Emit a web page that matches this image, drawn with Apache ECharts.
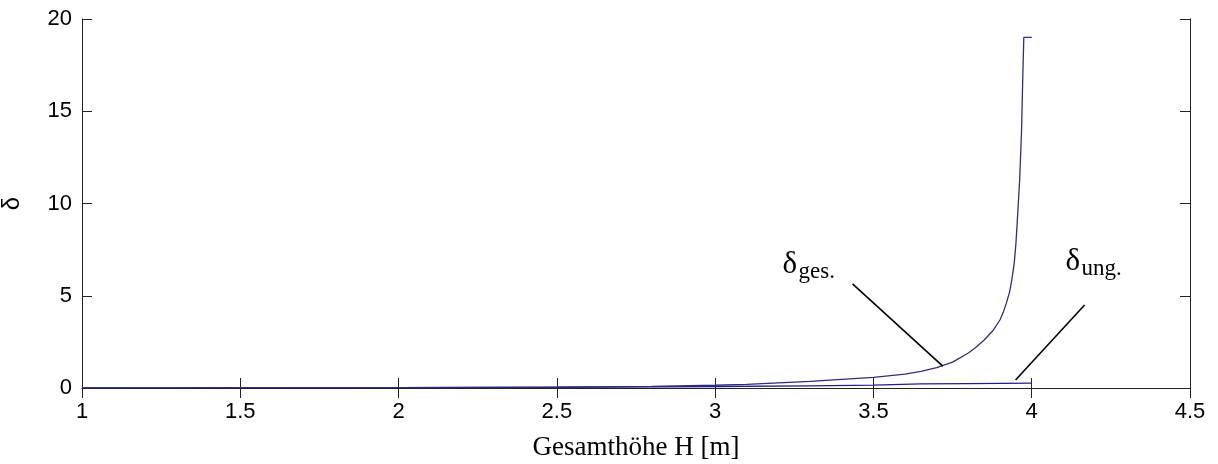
<!DOCTYPE html>
<html>
<head>
<meta charset="utf-8">
<script src="https://cdn.jsdelivr.net/npm/echarts@6/dist/echarts.min.js"></script>
<style>html,body{margin:0;padding:0;background:#fff;}#c{width:1218px;height:464px;}</style>
</head>
<body>
<div id="c"></div>
<script>
// Data
const gesX = [1, 1.5, 2.0, 2.5, 2.8, 3.0, 3.1, 3.2, 3.3, 3.4, 3.5, 3.6, 3.65, 3.7, 3.75, 3.8, 3.82, 3.85, 3.877, 3.9, 3.91, 3.92, 3.93, 3.937, 3.945, 3.95, 3.956, 3.962, 3.968, 3.972, 3.975, 4.0];
const gesY = [0.01, 0.015, 0.02, 0.05, 0.09, 0.15, 0.2, 0.28, 0.36, 0.47, 0.58, 0.75, 0.9, 1.1, 1.4, 1.9, 2.15, 2.6, 3.1, 3.7, 4.1, 4.6, 5.2, 5.85, 6.8, 7.8, 9.5, 11.3, 14, 17, 19, 19];
const ungX = [1, 2.0, 2.5, 3.0, 3.3, 3.5, 3.65, 3.8, 4.0];
const ungY = [0.01, 0.02, 0.04, 0.08, 0.12, 0.16, 0.22, 0.24, 0.26];
const xTicks = {min: 1, max: 4.5, interval: 0.5};
const yTicks = {min: 0, max: 20, interval: 5};
const xTitle = 'Gesamthöhe H [m]';
const yTitle = 'δ';
// annotation leader lines (data coords) and label anchors
const gesLeader = [[3.434, 5.64], [3.719, 1.19]];
const ungLeader = [[4.167, 4.5], [3.949, 0.43]];
const gesLabelAt = [3.213, 6.67];
const ungLabelAt = [4.107, 6.83];

const zip = (a, b) => a.map((v, i) => [v, b[i]]);
const chart = echarts.init(document.getElementById('c'), null, {renderer: 'canvas'});
const tickFont = {fontFamily: 'Liberation Sans, Arial, sans-serif', fontSize: 22, color: '#000'};
const axisLine = {show: true, lineStyle: {color: '#222', width: 1}};
const tick = {show: true, inside: true, length: 10, lineStyle: {color: '#222', width: 1}};
const leaderStyle = {color: '#000', width: 1.6, type: 'solid'};

chart.setOption({
  animation: false,
  backgroundColor: '#fff',
  grid: {left: 82, top: 19, right: 28, bottom: 76, containLabel: false, outerBoundsMode: 'none'},
  xAxis: [
    {type: 'value', min: xTicks.min, max: xTicks.max, interval: xTicks.interval, position: 'bottom',
     axisLine: axisLine, axisTick: tick, splitLine: {show: false},
     axisLabel: Object.assign({margin: 13}, tickFont),
     name: xTitle, nameLocation: 'middle', nameGap: 46,
     nameTextStyle: {fontFamily: 'Liberation Serif, Times New Roman, serif', fontSize: 27, color: '#000'}},
    {type: 'value', min: xTicks.min, max: xTicks.max, interval: xTicks.interval, position: 'top',
     axisLine: axisLine, axisTick: tick, splitLine: {show: false}, axisLabel: {show: false}}
  ],
  yAxis: [
    {type: 'value', min: yTicks.min, max: yTicks.max, interval: yTicks.interval, position: 'left',
     axisLine: axisLine, axisTick: tick, splitLine: {show: false},
     axisLabel: Object.assign({margin: 10}, tickFont),
     name: yTitle, nameLocation: 'middle', nameGap: 58, nameRotate: 90,
     nameTextStyle: {fontFamily: 'Liberation Sans, Arial, sans-serif', fontSize: 24, color: '#000'}},
    {type: 'value', min: yTicks.min, max: yTicks.max, interval: yTicks.interval, position: 'right',
     axisLine: axisLine, axisTick: tick, splitLine: {show: false}, axisLabel: {show: false}}
  ],
  series: [
    {name: 'δges.', type: 'line', data: zip(gesX, gesY), showSymbol: false, symbol: 'none',
     lineStyle: {color: '#2e2e7a', width: 1.3}, z: 3,
     markLine: {silent: true, symbol: ['none', 'none'], label: {show: false}, lineStyle: leaderStyle,
       data: [[{coord: gesLeader[0]}, {coord: gesLeader[1]}], [{coord: ungLeader[0]}, {coord: ungLeader[1]}]]}},
    {name: 'δung.', type: 'line', data: zip(ungX, ungY), showSymbol: false, symbol: 'none',
     lineStyle: {color: '#1f1f8a', width: 1.3}, z: 2}
  ]
});

function label(at, sub) {
  const p = chart.convertToPixel({gridIndex: 0}, at);
  return [
    {type: 'text', x: p[0], y: p[1], style: {text: 'δ', fill: '#000', font: '31px "Liberation Serif", "Times New Roman", serif', align: 'left', verticalAlign: 'middle'}},
    {type: 'text', x: p[0] + 16, y: p[1] + 7, style: {text: sub, fill: '#000', font: '23px "Liberation Serif", "Times New Roman", serif', align: 'left', verticalAlign: 'middle'}}
  ];
}
chart.setOption({graphic: label(gesLabelAt, 'ges.').concat(label(ungLabelAt, 'ung.'))});
</script>
</body>
</html>
